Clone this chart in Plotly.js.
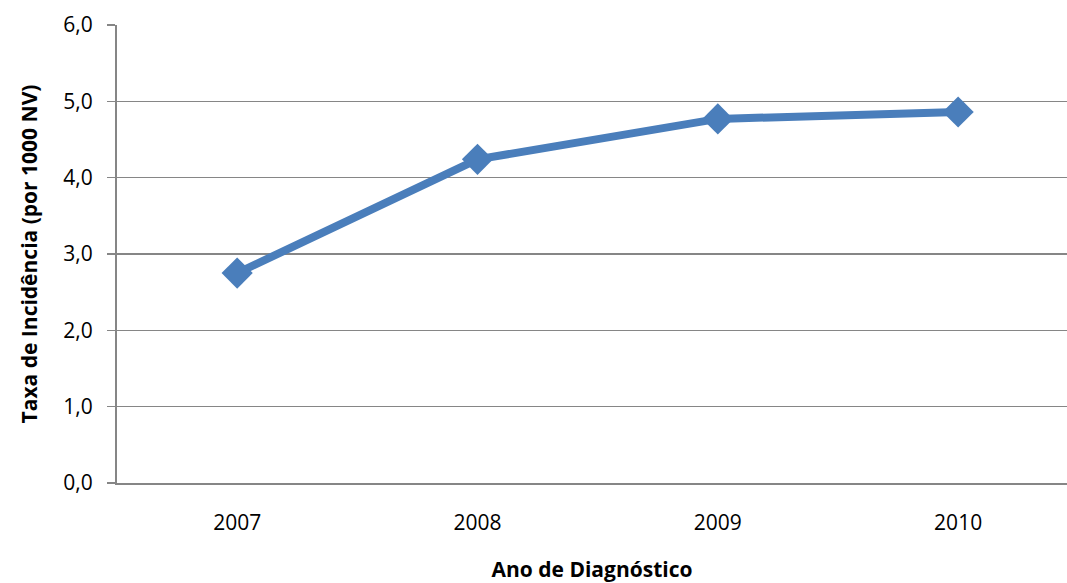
<!DOCTYPE html>
<html>
<head>
<meta charset="utf-8">
<script src="https://cdn.plot.ly/plotly-3.0.1.min.js"></script>
<style>html,body{margin:0;padding:0;overflow:hidden;background:#fff}</style>
</head>
<body>
<div id="chart" style="width:1067px;height:583px"></div>
<script>
const years = [2007, 2008, 2009, 2010];
const rates = [2.75, 4.24, 4.77, 4.86];
const yTicks = [0, 1, 2, 3, 4, 5, 6];
const xTitle = 'Ano de Diagnóstico';
const yTitle = 'Taxa de Incidência (por 1000 NV)';

const font = '"Open Sans", Lato, "Liberation Sans", sans-serif';

Plotly.newPlot('chart', [{
  x: years, y: rates, type: 'scatter', mode: 'lines+markers',
  line: {color: '#4a7ebb', width: 8},
  marker: {symbol: 'diamond', size: 24, color: '#4a7ebb'},
  hoverinfo: 'skip'
}], {
  width: 1067, height: 583,
  margin: {l: 117, r: 0, t: 25, b: 100},
  separators: ',.',
  paper_bgcolor: '#fff', plot_bgcolor: '#fff',
  showlegend: false,
  font: {family: font, size: 21, color: '#000'},
  xaxis: {
    range: [2006.5, 2010.453],
    tickvals: years, ticktext: years.map(String),
    showgrid: false, zeroline: false,
    showline: true, linecolor: '#868686', linewidth: 2,
    ticks: '', ticklabelstandoff: 20,
    tickfont: {family: font, size: 21, color: '#000'},
    title: {text: xTitle, font: {family: font, size: 21, color: '#000', weight: 'bold'}, standoff: 27}
  },
  yaxis: {
    range: [0, 6], tickvals: yTicks, tickformat: '.1f',
    showgrid: true, gridcolor: '#868686', gridwidth: 1.5,
    zeroline: false,
    showline: true, linecolor: '#868686', linewidth: 2,
    ticks: 'outside', ticklen: 8, tickcolor: '#868686', tickwidth: 1.5,
    ticklabelstandoff: 10,
    tickfont: {family: font, size: 21, color: '#000'},
    title: {text: yTitle, font: {family: font, size: 21, color: '#000', weight: 'bold'}, standoff: 20}
  }
}, {staticPlot: true});
</script>
</body>
</html>
